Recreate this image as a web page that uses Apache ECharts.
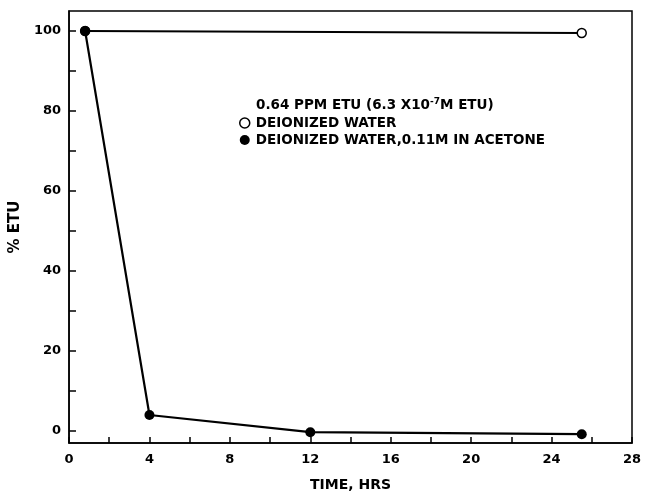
<!DOCTYPE html>
<html lang="en">
<head>
    <meta charset="UTF-8">
    <title>ETU</title>
    <script type="text/javascript" src="https://cdn.jsdelivr.net/npm/echarts@6/dist/echarts.min.js"></script>
    <style>
        body { margin: 0; background: #fff; }
        #chart { width: 646px; height: 497px; }
    </style>
</head>
<body>
<div id="chart"></div>
<script type="text/javascript">
    // time (hrs) and % ETU
    var waterHrs = [0.8, 25.5];
    var waterPct = [100, 99.5];
    var acetoneHrs = [0.8, 4, 12, 25.5];
    var acetonePct = [100, 4, -0.3, -0.8];
    var yLabels = [0, 20, 40, 60, 80, 100];
    var yTicks = [0, 10, 20, 30, 40, 50, 60, 70, 80, 90, 100];

    function pairs(xs, ys) {
        return xs.map(function (x, i) { return [x, ys[i]]; });
    }

    var font = 'DejaVu Sans';
    var mychart = echarts.init(document.getElementById('chart'));
    var option = {
        animation: false,
        backgroundColor: '#fff',
        grid: {
            left: 69, right: 14, top: 11, bottom: 54,
            show: true, borderColor: '#000', borderWidth: 1.5
        },
        title: {
            text: '0.64 PPM ETU (6.3 X10{sup|-7}M ETU)',
            left: 251, top: 92,
            textStyle: {
                fontFamily: font, fontSize: 13.5, fontWeight: 'bold', color: '#000',
                rich: { sup: { fontFamily: font, fontSize: 9, fontWeight: 'bold', verticalAlign: 'top', padding: [0, 0, 7, 0], color: '#000' } }
            }
        },
        legend: {
            orient: 'vertical',
            left: 234, top: 111,
            itemGap: 3, itemWidth: 10, itemHeight: 10,
            textStyle: { fontFamily: font, fontSize: 13.5, fontWeight: 'bold', color: '#000', padding: [0, 0, 0, 1] },
            data: [
                { name: 'DEIONIZED WATER', icon: 'path://M50,20A30,30,0,1,1,49.9,20Z', itemStyle: { color: '#fff', borderColor: '#000', borderWidth: 1.5 } },
                { name: 'DEIONIZED WATER,0.11M IN ACETONE', icon: 'circle', itemStyle: { color: '#000' } }
            ]
        },
        xAxis: {
            type: 'value', min: 0, max: 28, interval: 2,
            name: 'TIME, HRS', nameLocation: 'middle', nameGap: 35,
            nameTextStyle: { fontFamily: font, fontSize: 14, fontWeight: 'bold', color: '#000' },
            axisLine: { onZero: false, lineStyle: { color: '#000', width: 1.5 } },
            axisTick: { inside: true, length: 6, lineStyle: { color: '#000', width: 1.5 } },
            axisLabel: {
                fontFamily: font, fontSize: 13, fontWeight: 'bold', color: '#000', margin: 10,
                formatter: function (v) { return v % 4 === 0 ? String(v) : ''; }
            },
            splitLine: { show: false }
        },
        yAxis: {
            type: 'value', min: -3, max: 105,
            name: '% ETU', nameLocation: 'middle', nameGap: 38,
            nameTextStyle: { fontFamily: font, fontSize: 15, fontWeight: 'bold', color: '#000' },
            axisLine: { show: true, onZero: false, lineStyle: { color: '#000', width: 1.5 } },
            axisTick: { show: true, inside: true, length: 7, customValues: yTicks, lineStyle: { color: '#000', width: 1.5 } },
            axisLabel: { fontFamily: font, fontSize: 13, fontWeight: 'bold', color: '#000', margin: 8, customValues: yLabels },
            splitLine: { show: false }
        },
        series: [
            {
                name: 'DEIONIZED WATER', type: 'line',
                data: pairs(waterHrs, waterPct),
                symbol: 'circle', symbolSize: 9,
                lineStyle: { color: '#000', width: 2.2 },
                itemStyle: { color: '#fff', borderColor: '#000', borderWidth: 1.5 }
            },
            {
                name: 'DEIONIZED WATER,0.11M IN ACETONE', type: 'line',
                data: pairs(acetoneHrs, acetonePct),
                symbol: 'circle', symbolSize: 10, z: 3,
                lineStyle: { color: '#000', width: 2.2 },
                itemStyle: { color: '#000' }
            }
        ]
    };
    mychart.setOption(option);
</script>
</body>
</html>
